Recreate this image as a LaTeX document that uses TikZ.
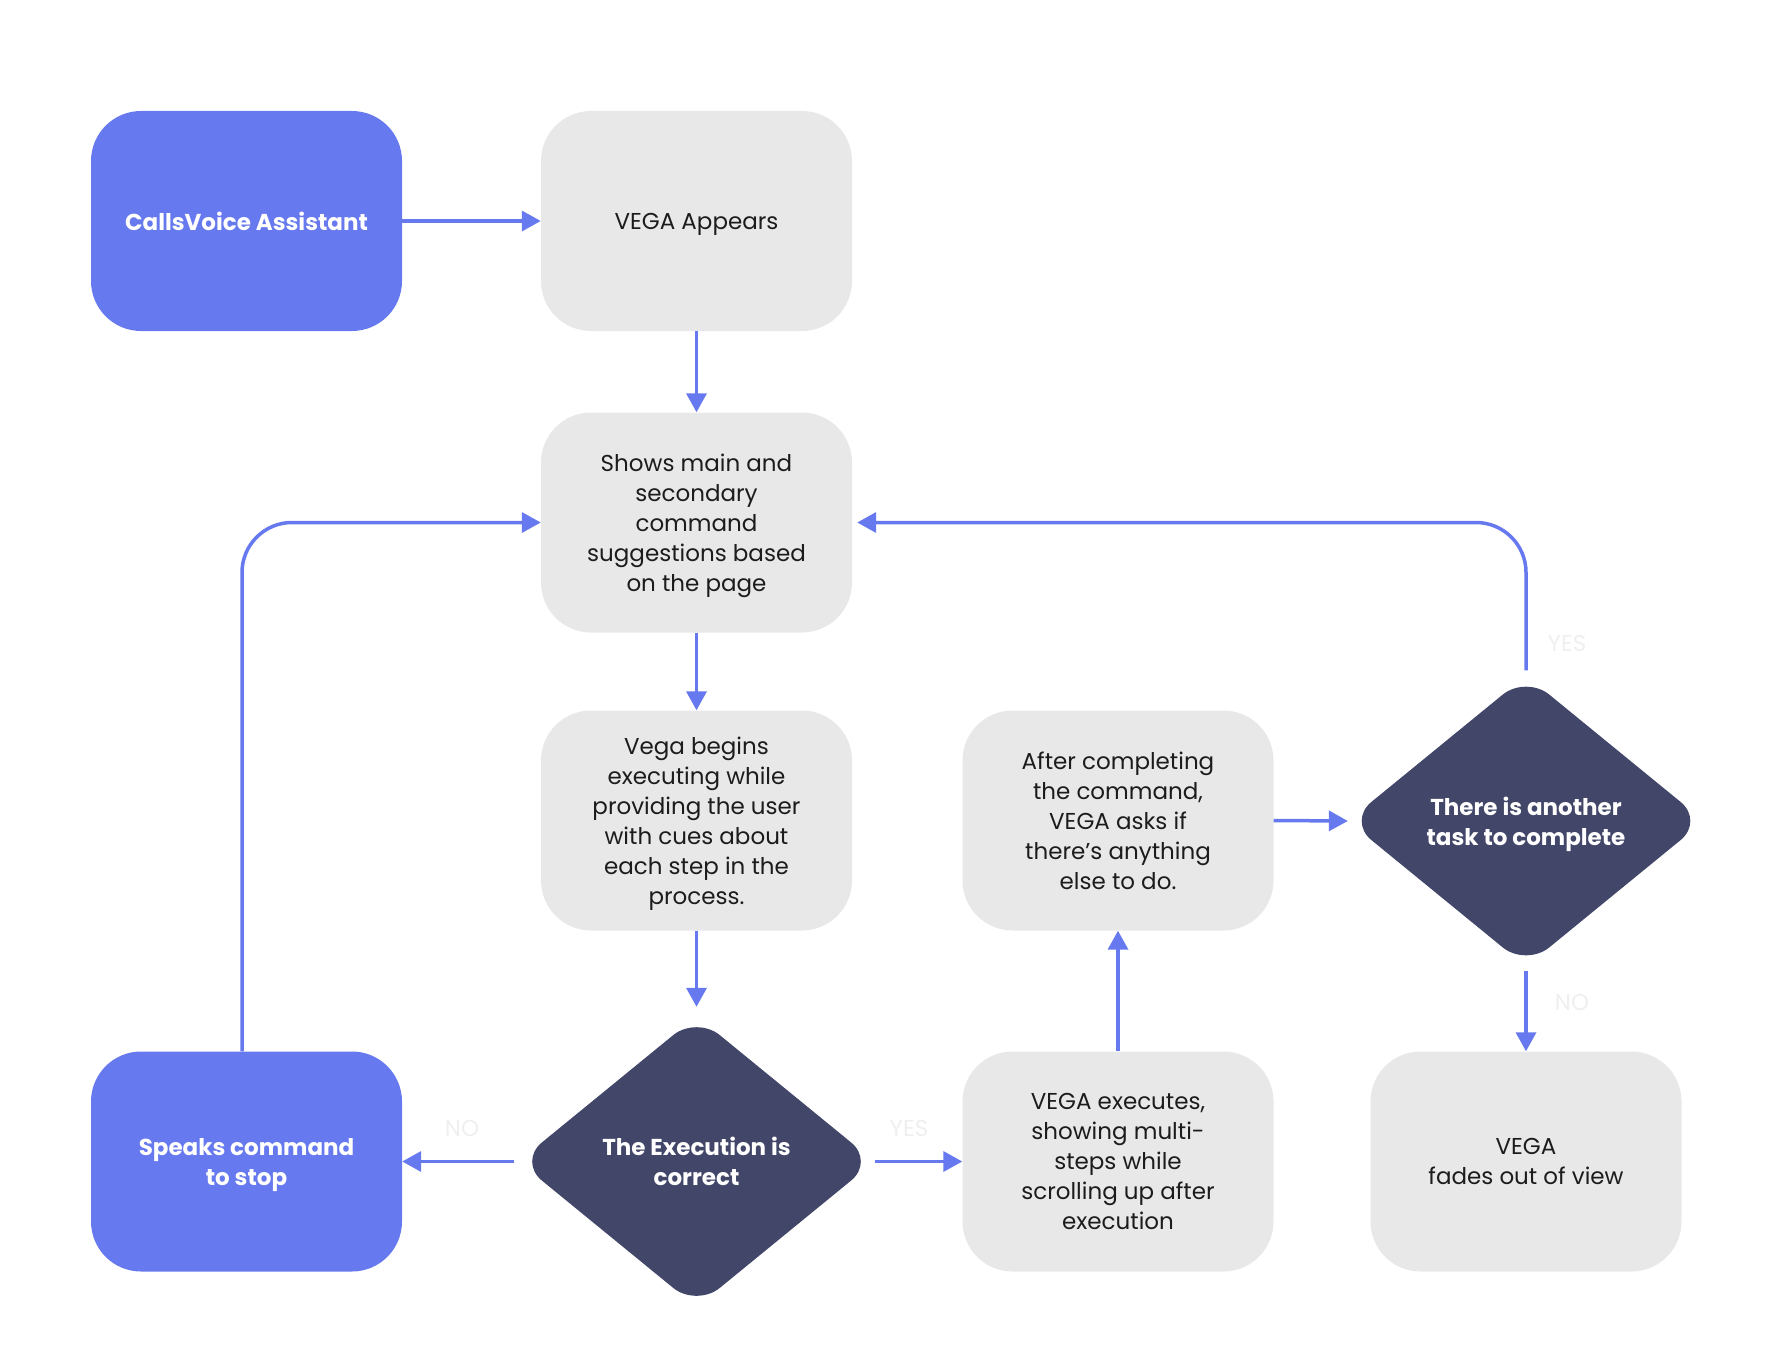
\documentclass[tikz,border=0pt]{standalone}
\usepackage{fontspec}
\setmainfont{Poppins}
\usetikzlibrary{shapes.geometric,arrows.meta}
\definecolor{vblue}{HTML}{6779EE}
\definecolor{vdark}{HTML}{424668}
\definecolor{vgray}{HTML}{E8E8E8}
\definecolor{vtext}{HTML}{1C1C1C}
\definecolor{vlabel}{HTML}{EFEFF2}
\begin{document}
\begin{tikzpicture}[x=1pt,y=-1pt,
 box/.style={rounded corners=50pt, minimum width=311pt, minimum height=220pt, inner sep=0pt, text depth=0pt, align=center, font=\fontsize{23}{30}\selectfont},
 graybox/.style={box, fill=vgray, text=vtext},
 bluebox/.style={box, fill=vblue, text=white, font=\fontsize{23}{30}\selectfont\bfseries},
 decision/.style={diamond, fill=vdark, text=white, minimum width=356pt, minimum height=291pt, inner sep=0pt, text depth=0pt, rounded corners=30pt, align=center, font=\fontsize{23}{30}\selectfont\bfseries},
 arr/.style={draw=vblue, line width=3.5pt, -{Triangle[length=19pt,width=20pt]}},
 lbl/.style={text=vlabel, font=\fontsize{23}{30}\selectfont}
]
\useasboundingbox (0,0) rectangle (1775,1362);

\node[bluebox] (cv) at (246.5,221) {CallsVoice Assistant};
\node[graybox] (va) at (696.5,221) {VEGA Appears};
\node[graybox] (sm) at (696.5,522.5) {Shows main and\\secondary\\command\\suggestions based\\on the page};
\node[graybox] (vb) at (696.5,820.5) {Vega begins\\executing while\\providing the user\\with cues about\\each step in the\\process.};
\node[graybox] (ac) at (1118,820.5) {After completing\\the command,\\VEGA asks if\\there's anything\\else to do.};
\node[decision] (d2) at (1526,821) {There is another\\task to complete};
\node[bluebox] (sp) at (246.5,1161.5) {Speaks command\\to stop};
\node[decision] (d1) at (696.5,1161.5) {The Execution is\\correct};
\node[graybox] (ve) at (1118,1161.5) {VEGA executes,\\showing multi-\\steps while\\scrolling up after\\execution};
\node[graybox] (vf) at (1526,1161.5) {VEGA\\fades out of view};

\draw[arr] (cv.east) -- (va.west);
\draw[arr] (va.south) -- (sm.north);
\draw[arr] (sm.south) -- (vb.north);
\draw[arr, shorten >=9pt] (vb.south) -- (d1.north);
\draw[arr, shorten <=4pt] (d1.west) -- (sp.east);
\draw[arr] (d1.east) -- (ve.west);
\draw[arr] (ve.north) -- (ac.south);
\draw[arr] (ac.east) -- (d2.west);
\draw[arr, shorten <=4pt] (d2.south) -- (vf.north);
\draw[arr, rounded corners=50pt, shorten <=5pt, shorten >=5pt] (d2.north) |- (sm.east);
\draw[arr, rounded corners=50pt] ([xshift=-4.5pt]sp.north) |- (sm.west);

\node[lbl] (noA) at (462,1128) {NO};
\node[lbl] (yesA) at (909,1128) {YES};
\node[lbl] (yesB) at (1567,643) {YES};
\node[lbl] (noB) at (1572,1002) {NO};
\end{tikzpicture}
\end{document}
